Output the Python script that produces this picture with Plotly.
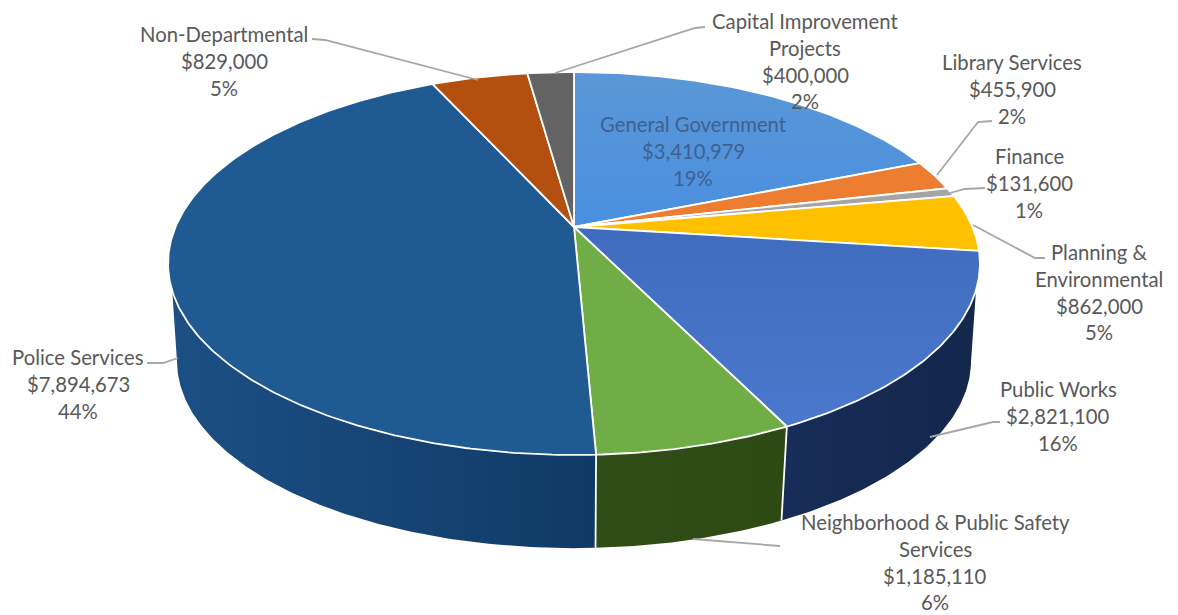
import numpy as np
import plotly.graph_objects as go

# Budget by department, clockwise from twelve o'clock
departments = [
    "General Government", "Library Services", "Finance", "Planning & Environmental",
    "Public Works", "Neighborhood & Public Safety Services", "Police Services",
    "Non-Departmental", "Capital Improvement Projects",
]
budgets = [3410979, 455900, 131600, 862000, 2821100, 1185110, 7894673, 829000, 400000]
percent_labels = ["19%", "2%", "1%", "5%", "16%", "6%", "44%", "5%", "2%"]
name_lines = [
    ["General Government"], ["Library Services"], ["Finance"], ["Planning &", "Environmental"],
    ["Public Works"], ["Neighborhood & Public Safety", "Services"], ["Police Services"],
    ["Non-Departmental"], ["Capital Improvement", "Projects"],
]
slice_colors = ["#5592d8", "#ed7d31", "#a5a5a5", "#ffc000", "#4472c4", "#70ad47", "#205a92", "#b4500f", "#636363"]

# Perspective model of the disc: centre x, apex y, half axes and foreshortening
CX = 574
TOP = dict(y0=227, a=398.5, b=184.5, k=0.1906)
BOTTOM = dict(y0=326, a=390.0, b=180.6, k=0.187)
WALL_START = {"top": np.radians(108.7), "bottom": np.radians(101)}
WALL_END = {"top": np.radians(251), "bottom": np.radians(259)}
WALL_GRADIENTS = {
    4: ["#172c58", "#14274c"],
    5: ["#304d18", "#2e4a14"],
    6: ["#1c4f84", "#103a66"],
}
# Vertical shading on the top face, keyed by slice
TOP_GRADIENTS = {0: ["#4a8fe0", "#5a97d6"], 4: ["#4a78cc", "#3f6cbe"]}


def rim(theta, m):
    d = 1 + m["k"] * np.cos(theta)
    return CX + m["a"] * np.sin(theta) / d, m["y0"] - m["b"] * np.cos(theta) / d


def arc(t0, t1):
    return np.linspace(t0, t1, max(2, int(abs(t1 - t0) * 90)))


fractions = np.cumsum([0] + budgets) / sum(budgets)
angles = 2 * np.pi * fractions
fig = go.Figure()

# Side walls, only the slices facing the viewer
for i, shades in WALL_GRADIENTS.items():
    t0, t1 = angles[i], angles[i + 1]
    xt, yt = rim(arc(max(t0, WALL_START["top"]), min(t1, WALL_END["top"])), TOP)
    xb, yb = rim(arc(min(t1, WALL_END["bottom"]), max(t0, WALL_START["bottom"])), BOTTOM)
    fig.add_trace(go.Scatter(
        x=np.r_[xt, xb, xt[0]], y=np.r_[yt, yb, yt[0]], mode="lines", fill="toself",
        line=dict(color="rgba(0,0,0,0)", width=0),
        fillgradient=dict(type="horizontal", colorscale=[[0, shades[0]], [1, shades[1]]]),
        hoverinfo="skip", showlegend=False,
    ))

# White seams where the walls meet
for i in (4, 5):
    xa, ya = rim(angles[i + 1], TOP)
    xb, yb = rim(angles[i + 1], BOTTOM)
    fig.add_trace(go.Scatter(x=[xa, xb], y=[ya, yb], mode="lines",
                             line=dict(color="white", width=1.8),
                             hoverinfo="skip", showlegend=False))

# Top face of the pie
for i, name in enumerate(departments):
    x, y = rim(arc(angles[i], angles[i + 1]), TOP)
    style = dict(fillcolor=slice_colors[i])
    if i in TOP_GRADIENTS:
        lo, hi = TOP_GRADIENTS[i]
        style = dict(fillgradient=dict(type="vertical", colorscale=[[0, lo], [1, hi]]))
    fig.add_trace(go.Scatter(
        x=np.r_[CX, x, CX], y=np.r_[TOP["y0"], y, TOP["y0"]], mode="lines", fill="toself",
        line=dict(color="white", width=1.8),
        name=name, hoverinfo="name", showlegend=False, **style,
    ))

# Leader lines from the slices out to their labels
leaders = [
    ([992, 978, 937], [121, 122, 175]),
    ([985, 965, 950], [188, 189, 193]),
    ([973, 1035, 1045], [225, 258, 258]),
    ([930, 993, 1000], [437, 422, 422]),
    ([693, 742, 780], [539, 543, 546]),
    ([147, 163, 178], [363, 363, 358]),
    ([312, 325, 478], [39, 40, 80]),
    ([705, 695, 555], [27, 28, 73]),
]
for lx, ly in leaders:
    fig.add_trace(go.Scatter(x=lx, y=ly, mode="lines", line=dict(color="#a6a6a6", width=1.8),
                             hoverinfo="skip", showlegend=False))

# Label placement: centre x and y of the first text row
label_centers = [693, 1012, 1029, 1099, 1058, 935, 78, 224, 805]
label_tops = [124, 62, 156, 252, 389, 522, 357, 34, 21]
ROW_HEIGHT = 26.8
annotations = []
for i, lines in enumerate(name_lines):
    rows = lines + [f"${budgets[i]:,}", percent_labels[i]]
    for r, text in enumerate(rows):
        annotations.append(dict(
            x=label_centers[i], y=label_tops[i] + r * ROW_HEIGHT, text=text, showarrow=False,
            xanchor="center", yanchor="middle",
            font=dict(family="Lato, 'Open Sans', sans-serif", size=20.3,
                      color="#3f6190" if i == 0 else "#595959"),
        ))

fig.update_layout(
    width=1178, height=615, margin=dict(l=0, r=0, t=0, b=0),
    paper_bgcolor="white", plot_bgcolor="white", showlegend=False, annotations=annotations,
    xaxis=dict(range=[0, 1178], visible=False, fixedrange=True),
    yaxis=dict(range=[615, 0], visible=False, fixedrange=True),
)
fig.write_html("out.html", config={"displayModeBar": False})
